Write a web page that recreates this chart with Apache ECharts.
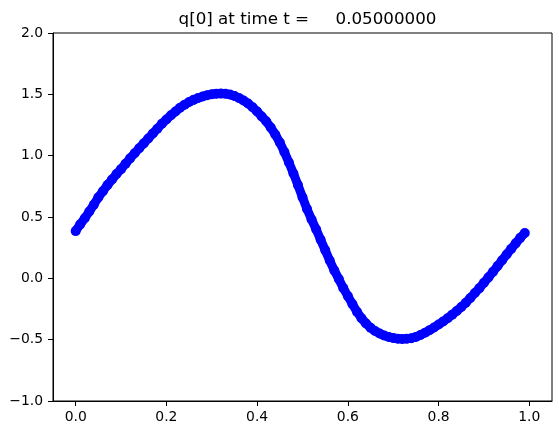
<!DOCTYPE html>
<html>
<head>
<meta charset="utf-8">
<script src="https://cdn.jsdelivr.net/npm/echarts@6/dist/echarts.min.js"></script>
<style>
  html, body { margin: 0; padding: 0; background: #ffffff; }
  #chart { width: 559px; height: 435px; }
</style>
</head>
<body>
<div id="chart"></div>
<script>
// ---- data ----
const titleText = 'q[0] at time t =     0.05000000';
const xValues = [
  0.00, 0.01, 0.02, 0.03, 0.04, 0.05, 0.06, 0.07, 0.08, 0.09,
  0.10, 0.11, 0.12, 0.13, 0.14, 0.15, 0.16, 0.17, 0.18, 0.19,
  0.20, 0.21, 0.22, 0.23, 0.24, 0.25, 0.26, 0.27, 0.28, 0.29,
  0.30, 0.31, 0.32, 0.33, 0.34, 0.35, 0.36, 0.37, 0.38, 0.39,
  0.40, 0.41, 0.42, 0.43, 0.44, 0.45, 0.46, 0.47, 0.48, 0.49,
  0.50, 0.51, 0.52, 0.53, 0.54, 0.55, 0.56, 0.57, 0.58, 0.59,
  0.60, 0.61, 0.62, 0.63, 0.64, 0.65, 0.66, 0.67, 0.68, 0.69,
  0.70, 0.71, 0.72, 0.73, 0.74, 0.75, 0.76, 0.77, 0.78, 0.79,
  0.80, 0.81, 0.82, 0.83, 0.84, 0.85, 0.86, 0.87, 0.88, 0.89,
  0.90, 0.91, 0.92, 0.93, 0.94, 0.95, 0.96, 0.97, 0.98, 0.99
];
const qValues = [
  0.385, 0.44, 0.49, 0.545, 0.60, 0.66, 0.71, 0.76, 0.805, 0.85,
  0.89, 0.935, 0.978, 1.02, 1.06, 1.10, 1.14, 1.18, 1.22, 1.26,
  1.295, 1.33, 1.36, 1.39, 1.415, 1.437, 1.455, 1.47, 1.483, 1.493,
  1.50, 1.505, 1.507, 1.505, 1.498, 1.487, 1.47, 1.45, 1.425, 1.395,
  1.36, 1.32, 1.28, 1.23, 1.173, 1.108, 1.03, 0.945, 0.855, 0.76,
  0.66, 0.565, 0.48, 0.40, 0.315, 0.23, 0.145, 0.065, -0.005, -0.08,
  -0.145, -0.21, -0.272, -0.325, -0.368, -0.403, -0.43, -0.45, -0.466, -0.478,
  -0.487, -0.492, -0.494, -0.493, -0.488, -0.478, -0.462, -0.443, -0.423, -0.401,
  -0.377, -0.352, -0.325, -0.296, -0.266, -0.234, -0.199, -0.16, -0.12, -0.08,
  -0.036, 0.008, 0.054, 0.10, 0.148, 0.195, 0.24, 0.285, 0.33, 0.37
];
const xTicks = [0.0, 0.2, 0.4, 0.6, 0.8, 1.0];
const yTicks = [-1.0, -0.5, 0.0, 0.5, 1.0, 1.5, 2.0];

// ---- chart ----
const points = xValues.map((x, i) => [x, qValues[i]]);
const fmt = v => v.toFixed(1).replace('-', '\u2212');
const font = 'DejaVu Sans';

const chart = echarts.init(document.getElementById('chart'), null, { renderer: 'canvas' });
chart.setOption({
  animation: false,
  backgroundColor: '#ffffff',
  title: {
    text: titleText,
    left: 302.5,
    textAlign: 'center',
    top: 6,
    textStyle: { fontFamily: font, fontSize: 16.7, fontWeight: 'normal', color: '#000000' }
  },
  grid: {
    left: 53, right: 7, top: 33, bottom: 34,
    show: true, borderColor: '#000000', borderWidth: 1, backgroundColor: 'transparent'
  },
  xAxis: {
    type: 'value',
    min: -0.05, max: 1.05,
    splitLine: { show: false },
    axisLine: { show: true, onZero: false, lineStyle: { color: '#000000', width: 1 } },
    axisTick: { show: true, inside: false, length: 5, customValues: xTicks, lineStyle: { color: '#000000', width: 1 } },
    axisLabel: { show: true, margin: 9, customValues: xTicks, formatter: fmt,
      fontFamily: font, fontSize: 13.9, color: '#000000' }
  },
  yAxis: {
    type: 'value',
    min: -1.0, max: 2.0,
    splitLine: { show: false },
    axisLine: { show: true, onZero: false, lineStyle: { color: '#000000', width: 1 } },
    axisTick: { show: true, inside: false, length: 5, customValues: yTicks, lineStyle: { color: '#000000', width: 1 } },
    axisLabel: { show: true, margin: 10, customValues: yTicks, formatter: fmt,
      fontFamily: font, fontSize: 13.9, color: '#000000' }
  },
  series: [{
    type: 'line',
    data: points,
    smooth: false,
    symbol: 'circle',
    symbolSize: 10,
    showSymbol: true,
    showAllSymbol: true,
    lineStyle: { color: '#0000ff', width: 9 },
    itemStyle: { color: '#0000ff', borderWidth: 0 },
    emphasis: { disabled: true }
  }]
});
</script>
</body>
</html>
